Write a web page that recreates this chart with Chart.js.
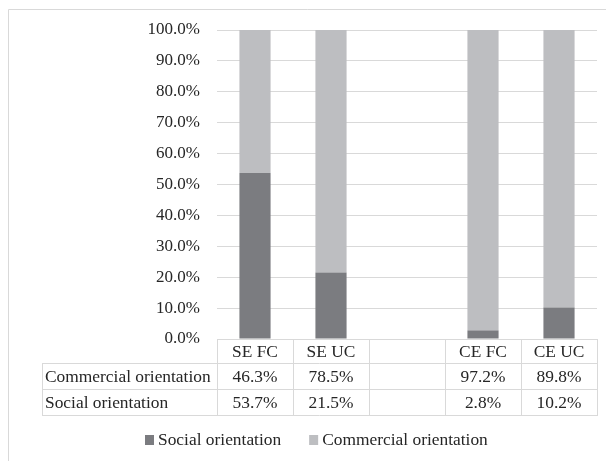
<!DOCTYPE html>
<html>
<head>
<meta charset="utf-8">
<script src="https://cdn.jsdelivr.net/npm/chart.js@4/dist/chart.umd.min.js"></script>
<style>
  html, body { margin: 0; padding: 0; background: #fff; }
  #wrap { width: 606px; height: 461px; position: relative; }
</style>
</head>
<body>
<div id="wrap"><canvas id="c" width="606" height="461"></canvas></div>
<script>
// Orientation shares (%) per group; the third slot is an intentional spacer column.
const categories = ['SE FC', 'SE UC', '', 'CE FC', 'CE UC'];
const socialValues = [53.7, 21.5, null, 2.8, 10.2];
const commercialValues = [46.3, 78.5, null, 97.2, 89.8];
const seriesNames = ['Social orientation', 'Commercial orientation'];
const seriesColors = ['#7b7c80', '#bdbec1'];
// Rows of the data table under the axis, top to bottom
const tableRows = [1, 0];

const FONT = 'Liberation Serif';
const TEXT = '#262626';
const LINE = '#d9d9d9';

function pct(v) { return v == null ? '' : v.toFixed(1) + '%'; }

const framePlugin = {
  id: 'frame',
  beforeDraw(chart) {
    const ctx = chart.ctx;
    ctx.save();
    ctx.strokeStyle = LINE;
    ctx.lineWidth = 1;
    ctx.beginPath();
    ctx.moveTo(8.5, chart.height);
    ctx.lineTo(8.5, 9.5);
    ctx.lineTo(chart.width, 9.5);
    ctx.stroke();
    ctx.restore();
  }
};

const dataTablePlugin = {
  id: 'dataTable',
  afterDraw(chart) {
    const ctx = chart.ctx;
    const xs = chart.scales.x;
    const n = chart.data.labels.length;
    const step = xs.width / n;
    const colLeft = Math.round(xs.getPixelForValue(0) - step / 2);
    const bounds = [];
    for (let i = 0; i <= n; i++) bounds.push(Math.round(colLeft + i * step));
    const labelLeft = 42;
    const top = Math.round(chart.chartArea.bottom);
    const rowEdges = [top, top + 24, top + 50, top + 76];

    ctx.save();
    ctx.strokeStyle = LINE;
    ctx.lineWidth = 1;
    ctx.beginPath();
    // horizontal rules
    ctx.moveTo(bounds[0], rowEdges[0] + 0.5); ctx.lineTo(bounds[n], rowEdges[0] + 0.5);
    for (let r = 1; r < rowEdges.length; r++) {
      ctx.moveTo(labelLeft, rowEdges[r] + 0.5); ctx.lineTo(bounds[n], rowEdges[r] + 0.5);
    }
    // vertical rules
    for (let i = 0; i <= n; i++) {
      ctx.moveTo(bounds[i] + 0.5, rowEdges[0]); ctx.lineTo(bounds[i] + 0.5, rowEdges[3] + 1);
    }
    ctx.moveTo(labelLeft + 0.5, rowEdges[1]); ctx.lineTo(labelLeft + 0.5, rowEdges[3] + 1);
    ctx.stroke();

    ctx.fillStyle = TEXT;
    ctx.font = '17.4px "' + FONT + '"';
    ctx.textBaseline = 'middle';
    ctx.textAlign = 'center';
    const headY = (rowEdges[0] + rowEdges[1]) / 2 + 1;
    chart.data.labels.forEach((lab, i) => {
      ctx.fillText(lab, (bounds[i] + bounds[i + 1]) / 2, headY);
    });
    tableRows.forEach((dsIndex, r) => {
      const ds = chart.data.datasets[dsIndex];
      const y = (rowEdges[r + 1] + rowEdges[r + 2]) / 2 + 1;
      ctx.textAlign = 'left';
      ctx.fillText(ds.label, labelLeft + 3, y);
      ctx.textAlign = 'center';
      ds.data.forEach((v, i) => {
        ctx.fillText(pct(v), (bounds[i] + bounds[i + 1]) / 2, y);
      });
    });
    ctx.restore();
  }
};

const legendPlugin = {
  id: 'bottomLegend',
  afterDraw(chart) {
    const ctx = chart.ctx;
    ctx.save();
    ctx.font = '17.4px "' + FONT + '"';
    ctx.textBaseline = 'middle';
    ctx.textAlign = 'left';
    const box = 9, gapText = 4, gapItem = 28;
    const items = chart.data.datasets.map(d => ({ label: d.label, color: d.backgroundColor, w: ctx.measureText(d.label).width }));
    let total = 0;
    items.forEach((it, i) => { total += box + gapText + it.w + (i ? gapItem : 0); });
    let x = Math.round(316 - total / 2);
    const cy = 440;
    items.forEach(it => {
      ctx.fillStyle = it.color;
      ctx.fillRect(x, cy - 5, box, box + 1);
      ctx.fillStyle = TEXT;
      ctx.fillText(it.label, x + box + gapText, cy);
      x += box + gapText + it.w + gapItem;
    });
    ctx.restore();
  }
};

function build() {
  new Chart(document.getElementById('c'), {
    type: 'bar',
    data: {
      labels: categories,
      datasets: [
        { label: seriesNames[0], data: socialValues, backgroundColor: seriesColors[0] },
        { label: seriesNames[1], data: commercialValues, backgroundColor: seriesColors[1] }
      ]
    },
    options: {
      responsive: false,
      devicePixelRatio: 1,
      animation: false,
      layout: { padding: { left: 0, right: 9, top: 30, bottom: 122 } },
      datasets: { bar: { categoryPercentage: 1, barPercentage: 0.41 } },
      plugins: { legend: { display: false }, tooltip: { enabled: false } },
      scales: {
        x: { stacked: true, display: false },
        y: {
          stacked: true,
          min: 0, max: 100,
          afterFit(scale) { scale.width = 217; },
          border: { display: false },
          grid: { color: LINE, lineWidth: 1, drawTicks: false },
          ticks: {
            stepSize: 10,
            padding: 17,
            color: TEXT,
            font: { family: '"' + FONT + '"', size: 17 },
            callback: v => v.toFixed(1) + '%'
          }
        }
      }
    },
    plugins: [framePlugin, dataTablePlugin, legendPlugin]
  });
}

document.fonts.load('17px "' + FONT + '"').then(build, build);
</script>
</body>
</html>
